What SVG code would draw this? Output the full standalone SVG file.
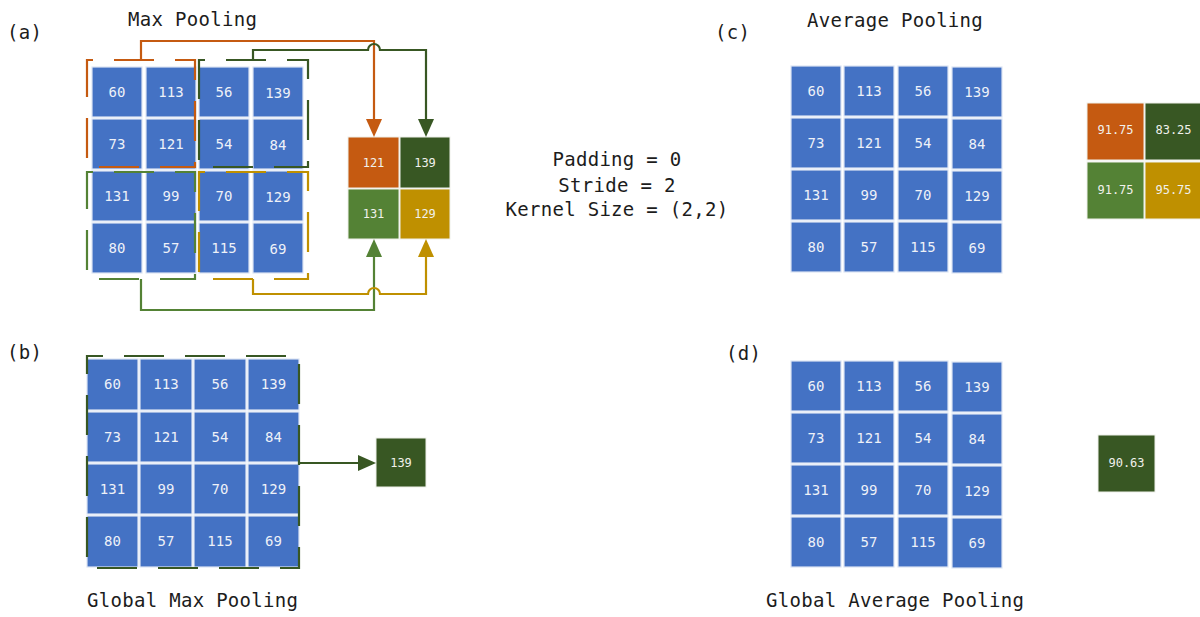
<svg xmlns="http://www.w3.org/2000/svg" width="1200" height="617" viewBox="0 0 1200 617">
  <style>
    .title { font-family: "DejaVu Sans Mono", "Liberation Mono", monospace; font-size: 19px; letter-spacing: 0.3px; fill: #1c1c1c; }
    .cell { fill: #4472C4; stroke: #dde5f3; stroke-width: 1.2; }
    .num { font-family: "DejaVu Sans Mono", "Liberation Mono", monospace; font-size: 14px; fill: #eef1f8; text-anchor: middle; }
    .out { stroke: #eef0ea; stroke-width: 1; }
    .onum { font-family: "DejaVu Sans Mono", "Liberation Mono", monospace; font-size: 12px; fill: #f1f1ec; text-anchor: middle; }
    .win { fill: none; stroke-width: 2.2; stroke-dasharray: 40 21; }
    .link { fill: none; stroke-width: 2.2; }
    .orange { fill: #C55A11; }
    .dkgreen { fill: #385723; }
    .ltgreen { fill: #548235; }
    .gold { fill: #BF9000; }
  </style>
  <defs>
    <marker id="arrOrange" markerUnits="userSpaceOnUse" viewBox="0 0 18 16" markerWidth="18" markerHeight="16" refX="0" refY="8" orient="auto">
      <path d="M0,0 L18,8 L0,16 z" fill="#C55A11"/>
    </marker>
    <marker id="arrDkGreen" markerUnits="userSpaceOnUse" viewBox="0 0 18 16" markerWidth="18" markerHeight="16" refX="0" refY="8" orient="auto">
      <path d="M0,0 L18,8 L0,16 z" fill="#385723"/>
    </marker>
    <marker id="arrLtGreen" markerUnits="userSpaceOnUse" viewBox="0 0 18 16" markerWidth="18" markerHeight="16" refX="0" refY="8" orient="auto">
      <path d="M0,0 L18,8 L0,16 z" fill="#548235"/>
    </marker>
    <marker id="arrGold" markerUnits="userSpaceOnUse" viewBox="0 0 18 16" markerWidth="18" markerHeight="16" refX="0" refY="8" orient="auto">
      <path d="M0,0 L18,8 L0,16 z" fill="#BF9000"/>
    </marker>
  </defs>

  <rect width="1200" height="617" fill="#ffffff"/>

  <!-- labels and headings -->
  <g id="labels">
    <text class="title" x="7" y="39">(a)</text>
    <text class="title" x="128" y="26">Max Pooling</text>
    <text class="title" x="7" y="359">(b)</text>
    <text class="title" x="87" y="607">Global Max Pooling</text>
    <text class="title" x="715" y="39">(c)</text>
    <text class="title" x="807" y="27">Average Pooling</text>
    <text class="title" x="726" y="360">(d)</text>
    <text class="title" x="766" y="607">Global Average Pooling</text>
  </g>

  <g id="params" class="title" style="text-anchor: middle">
    <text x="617" y="166">Padding = 0</text>
    <text x="617" y="192">Stride = 2</text>
    <text x="617" y="216">Kernel Size = (2,2)</text>
  </g>

  <!-- (a) input feature map -->
  <g id="grid-a">
    <rect class="cell" x="92" y="67" width="50" height="50"/><text class="num" x="117" y="97">60</text>
    <rect class="cell" x="146" y="67" width="50" height="50"/><text class="num" x="171" y="97">113</text>
    <rect class="cell" x="199" y="67" width="50" height="50"/><text class="num" x="224" y="97">56</text>
    <rect class="cell" x="253" y="67" width="50" height="50"/><text class="num" x="278" y="98">139</text>
    <rect class="cell" x="92" y="119" width="50" height="50"/><text class="num" x="117" y="149">73</text>
    <rect class="cell" x="146" y="119" width="50" height="50"/><text class="num" x="171" y="149">121</text>
    <rect class="cell" x="199" y="119" width="50" height="50"/><text class="num" x="224" y="149">54</text>
    <rect class="cell" x="253" y="119" width="50" height="50"/><text class="num" x="278" y="150">84</text>
    <rect class="cell" x="92" y="171" width="50" height="50"/><text class="num" x="117" y="201">131</text>
    <rect class="cell" x="146" y="171" width="50" height="50"/><text class="num" x="171" y="201">99</text>
    <rect class="cell" x="199" y="171" width="50" height="50"/><text class="num" x="224" y="201">70</text>
    <rect class="cell" x="253" y="171" width="50" height="50"/><text class="num" x="278" y="202">129</text>
    <rect class="cell" x="92" y="223" width="50" height="50"/><text class="num" x="117" y="253">80</text>
    <rect class="cell" x="146" y="223" width="50" height="50"/><text class="num" x="171" y="253">57</text>
    <rect class="cell" x="199" y="223" width="50" height="50"/><text class="num" x="224" y="253">115</text>
    <rect class="cell" x="253" y="223" width="50" height="50"/><text class="num" x="278" y="254">69</text>
  </g>

  <!-- (a) pooling windows -->
  <g id="windows-a">
    <path class="win" stroke="#C55A11" stroke-dashoffset="34" d="M87,60 H195 V167 H87 Z"/>
    <path class="win" stroke="#385723" stroke-dashoffset="34" d="M199,60 H308 V167 H199 Z"/>
    <path class="win" stroke="#548235" stroke-dashoffset="34" d="M87,172 H195 V279 H87 Z"/>
    <path class="win" stroke="#BF9000" stroke-dashoffset="34" d="M199,172 H308 V279 H199 Z"/>
  </g>

  <!-- (a) pooled output -->
  <g id="output-a">
    <rect class="out orange" x="348" y="137" width="51" height="51"/><text class="onum" x="373.5" y="167">121</text>
    <rect class="out dkgreen" x="400" y="137" width="50" height="51"/><text class="onum" x="425" y="167">139</text>
    <rect class="out ltgreen" x="348" y="189" width="51" height="50"/><text class="onum" x="373.5" y="218">131</text>
    <rect class="out gold" x="400" y="189" width="50" height="50"/><text class="onum" x="425" y="218">129</text>
  </g>

  <!-- (b) input with one global window -->
  <g id="grid-b">
    <rect class="cell" x="87" y="359" width="51" height="51"/><text class="num" x="112.5" y="389">60</text>
    <rect class="cell" x="140" y="359" width="52" height="51"/><text class="num" x="166" y="389">113</text>
    <rect class="cell" x="194" y="359" width="52" height="51"/><text class="num" x="220" y="389">56</text>
    <rect class="cell" x="248" y="359" width="51" height="51"/><text class="num" x="273.5" y="389">139</text>
    <rect class="cell" x="87" y="412" width="51" height="50"/><text class="num" x="112.5" y="442">73</text>
    <rect class="cell" x="140" y="412" width="52" height="50"/><text class="num" x="166" y="442">121</text>
    <rect class="cell" x="194" y="412" width="52" height="50"/><text class="num" x="220" y="442">54</text>
    <rect class="cell" x="248" y="412" width="51" height="50"/><text class="num" x="273.5" y="442">84</text>
    <rect class="cell" x="87" y="464" width="51" height="50"/><text class="num" x="112.5" y="494">131</text>
    <rect class="cell" x="140" y="464" width="52" height="50"/><text class="num" x="166" y="494">99</text>
    <rect class="cell" x="194" y="464" width="52" height="50"/><text class="num" x="220" y="494">70</text>
    <rect class="cell" x="248" y="464" width="51" height="50"/><text class="num" x="273.5" y="494">129</text>
    <rect class="cell" x="87" y="516" width="51" height="51"/><text class="num" x="112.5" y="546">80</text>
    <rect class="cell" x="140" y="516" width="52" height="51"/><text class="num" x="166" y="546">57</text>
    <rect class="cell" x="194" y="516" width="52" height="51"/><text class="num" x="220" y="546">115</text>
    <rect class="cell" x="248" y="516" width="51" height="51"/><text class="num" x="273.5" y="546">69</text>
  </g>
  <g id="window-b">
    <path class="win" stroke="#385723" stroke-dashoffset="24" d="M87,356 H299 V568 H87 Z"/>
  </g>
  <g id="output-b">
    <rect class="out dkgreen" x="376" y="438" width="50" height="49"/><text class="onum" x="401" y="467">139</text>
  </g>

  <!-- (c) input feature map -->
  <g id="grid-c">
    <rect class="cell" x="791" y="66" width="50" height="50"/><text class="num" x="816" y="96">60</text>
    <rect class="cell" x="844" y="66" width="50" height="50"/><text class="num" x="869" y="96">113</text>
    <rect class="cell" x="898" y="66" width="50" height="50"/><text class="num" x="923" y="96">56</text>
    <rect class="cell" x="952" y="67" width="50" height="50"/><text class="num" x="977" y="97">139</text>
    <rect class="cell" x="791" y="118" width="50" height="50"/><text class="num" x="816" y="148">73</text>
    <rect class="cell" x="844" y="118" width="50" height="50"/><text class="num" x="869" y="148">121</text>
    <rect class="cell" x="898" y="118" width="50" height="50"/><text class="num" x="923" y="148">54</text>
    <rect class="cell" x="952" y="119" width="50" height="50"/><text class="num" x="977" y="149">84</text>
    <rect class="cell" x="791" y="170" width="50" height="50"/><text class="num" x="816" y="200">131</text>
    <rect class="cell" x="844" y="170" width="50" height="50"/><text class="num" x="869" y="200">99</text>
    <rect class="cell" x="898" y="170" width="50" height="50"/><text class="num" x="923" y="200">70</text>
    <rect class="cell" x="952" y="171" width="50" height="50"/><text class="num" x="977" y="201">129</text>
    <rect class="cell" x="791" y="222" width="50" height="50"/><text class="num" x="816" y="252">80</text>
    <rect class="cell" x="844" y="222" width="50" height="50"/><text class="num" x="869" y="252">57</text>
    <rect class="cell" x="898" y="222" width="50" height="50"/><text class="num" x="923" y="252">115</text>
    <rect class="cell" x="952" y="223" width="50" height="50"/><text class="num" x="977" y="253">69</text>
  </g>
  <g id="output-c">
    <rect class="out orange" x="1087" y="103" width="57" height="57"/><text class="onum" x="1115.5" y="134">91.75</text>
    <rect class="out dkgreen" x="1145" y="103" width="57" height="57"/><text class="onum" x="1173.5" y="134">83.25</text>
    <rect class="out ltgreen" x="1087" y="162" width="57" height="57"/><text class="onum" x="1115.5" y="194">91.75</text>
    <rect class="out gold" x="1145" y="162" width="57" height="57"/><text class="onum" x="1173.5" y="194">95.75</text>
  </g>

  <!-- (d) input feature map -->
  <g id="grid-d">
    <rect class="cell" x="791" y="361" width="50" height="50"/><text class="num" x="816" y="391">60</text>
    <rect class="cell" x="844" y="361" width="50" height="50"/><text class="num" x="869" y="391">113</text>
    <rect class="cell" x="898" y="361" width="50" height="50"/><text class="num" x="923" y="391">56</text>
    <rect class="cell" x="952" y="362" width="50" height="50"/><text class="num" x="977" y="392">139</text>
    <rect class="cell" x="791" y="413" width="50" height="50"/><text class="num" x="816" y="443">73</text>
    <rect class="cell" x="844" y="413" width="50" height="50"/><text class="num" x="869" y="443">121</text>
    <rect class="cell" x="898" y="413" width="50" height="50"/><text class="num" x="923" y="443">54</text>
    <rect class="cell" x="952" y="414" width="50" height="50"/><text class="num" x="977" y="444">84</text>
    <rect class="cell" x="791" y="465" width="50" height="50"/><text class="num" x="816" y="495">131</text>
    <rect class="cell" x="844" y="465" width="50" height="50"/><text class="num" x="869" y="495">99</text>
    <rect class="cell" x="898" y="465" width="50" height="50"/><text class="num" x="923" y="495">70</text>
    <rect class="cell" x="952" y="466" width="50" height="50"/><text class="num" x="977" y="496">129</text>
    <rect class="cell" x="791" y="517" width="50" height="50"/><text class="num" x="816" y="547">80</text>
    <rect class="cell" x="844" y="517" width="50" height="50"/><text class="num" x="869" y="547">57</text>
    <rect class="cell" x="898" y="517" width="50" height="50"/><text class="num" x="923" y="547">115</text>
    <rect class="cell" x="952" y="518" width="50" height="50"/><text class="num" x="977" y="548">69</text>
  </g>
  <g id="output-d">
    <rect class="out dkgreen" x="1098" y="435" width="57" height="57"/><text class="onum" x="1126.5" y="467">90.63</text>
  </g>

  <!-- connectors from pooling windows to outputs -->
  <g id="connectors">
    <path class="link" stroke="#C55A11" marker-end="url(#arrOrange)" d="M141,60 V41 H374 V119"/>
    <path class="link" stroke="#385723" marker-end="url(#arrDkGreen)" d="M253,60 V50 H368 A6,6 0 0 1 380,50 H426 V119"/>
    <path class="link" stroke="#548235" marker-end="url(#arrLtGreen)" d="M141,279 V310 H374 V257"/>
    <path class="link" stroke="#BF9000" marker-end="url(#arrGold)" d="M253,279 V294 H368 A6,6 0 0 1 380,294 H426 V257"/>
    <path class="link" stroke="#385723" marker-end="url(#arrDkGreen)" d="M299,463 H358"/>
  </g>
</svg>
